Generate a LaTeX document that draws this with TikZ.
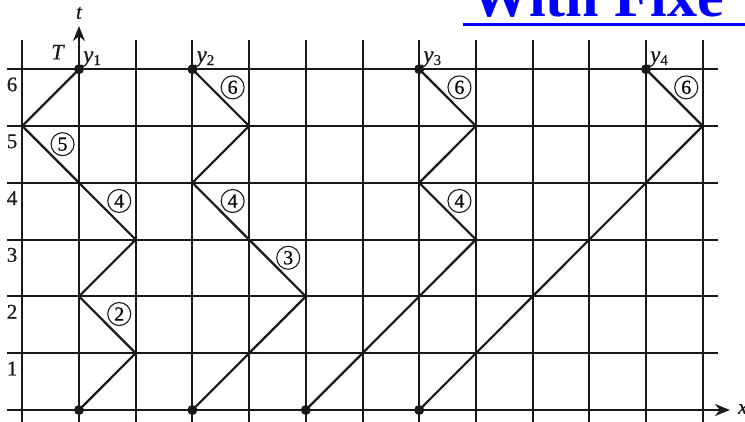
\documentclass[tikz,border=0pt]{standalone}
\usepackage{fontspec}
\setmainfont{Liberation Serif}
\newfontfamily\labfont{Liberation Serif}[FakeBold=0.6]
\usetikzlibrary{arrows.meta}
\definecolor{titleblue}{RGB}{0,0,255}
\definecolor{ink}{RGB}{25,25,25}
\newcommand{\ysub}[1]{\textit{y}\raisebox{-3pt}{\fontsize{15}{15}\selectfont #1}}
\begin{document}
\begin{tikzpicture}[x=56.7pt,y=56.8pt,
  gridline/.style={line width=2pt, ink},
  walk/.style={line width=2.2pt, line join=miter, ink},
  dotpt/.style={circle, fill=ink, inner sep=0, minimum size=10pt},
  numlab/.style={circle, draw=ink, line width=1.1pt, inner sep=0, minimum size=23pt, font=\labfont\fontsize{20}{20}\selectfont},
  axlab/.style={font=\labfont\fontsize{21}{21}\selectfont, inner sep=0, text=ink},
  ylab/.style={font=\labfont\fontsize{23}{23}\selectfont, anchor=south west, inner sep=0, text=ink},
  itlab/.style={font=\labfont\fontsize{21}{21}\selectfont\itshape, inner sep=0, text=ink},
  axarrow/.style={-{Stealth[length=15pt,width=12pt]}}
]
\clip (-79pt,-11pt) rectangle (666pt,410pt);
% grid
\foreach \k in {-1,1,2,...,11}{
  \coordinate (vb\k) at (\k,-0.4);
  \coordinate (vt\k) at (\k,6.514);
  \draw[gridline] (vb\k) -- (vt\k);
}
\foreach \t in {1,...,6}{
  \coordinate (hl\t) at (-1.27,\t);
  \coordinate (hr\t) at (11.27,\t);
  \draw[gridline] (hl\t) -- (hr\t);
  \node[axlab] (ax\t) at (-1.18,\t-0.27) {\t};
}
% axes
\coordinate (xs) at (-1.27,0);
\coordinate (xe) at (11.48,0);
\draw[gridline,axarrow] (xs) -- (xe);
\node[itlab, anchor=west] (xl) at ([xshift=8pt,yshift=1pt]xe) {x};
\coordinate (ts) at (0,-0.4);
\coordinate (te) at (0,6.76);
\draw[gridline,axarrow] (ts) -- (te);
\node[itlab] (tl) at (0,6.99) {t};
\node[itlab, font=\labfont\fontsize{22}{22}\selectfont\itshape] (Tl) at (-0.38,6.3) {T};
% walk 1
\coordinate (A0) at (0,0); \coordinate (A1) at (1,1); \coordinate (A2) at (0,2);
\coordinate (A3) at (1,3); \coordinate (A4) at (0,4); \coordinate (A5) at (-1,5);
\coordinate (A6) at (0,6);
\draw[walk] (A0) -- (A1) -- (A2) -- (A3) -- (A4) -- (A5) -- (A6);
% walk 2
\coordinate (B0) at (2,0); \coordinate (B1) at (4,2); \coordinate (B2) at (3,3);
\coordinate (B3) at (2,4); \coordinate (B4) at (3,5); \coordinate (B5) at (2,6);
\draw[walk] (B0) -- (B1) -- (B2) -- (B3) -- (B4) -- (B5);
% walk 3
\coordinate (C0) at (4,0); \coordinate (C1) at (7,3); \coordinate (C2) at (6,4);
\coordinate (C3) at (7,5); \coordinate (C4) at (6,6);
\draw[walk] (C0) -- (C1) -- (C2) -- (C3) -- (C4);
% walk 4
\coordinate (D0) at (6,0); \coordinate (D1) at (11,5); \coordinate (D2) at (10,6);
\draw[walk] (D0) -- (D1) -- (D2);
% dots
\foreach \p in {A0,A6,B0,B5,C0,C4,D0,D2}{
  \node[dotpt] (dot\p) at (\p) {};
}
% y labels
\node[ylab] (y1) at ([shift={(4pt,2pt)}]A6) {\ysub{1}};
\node[ylab] (y2) at ([shift={(4pt,2pt)}]B5) {\ysub{2}};
\node[ylab] (y3) at ([shift={(4pt,2pt)}]C4) {\ysub{3}};
\node[ylab] (y4) at ([shift={(4pt,2pt)}]D2) {\ysub{4}};
% circled numbers
\node[numlab] (n1) at (0.71,1.69) {2};
\node[numlab] (n2) at (0.71,3.68) {4};
\node[numlab] (n3) at (-0.29,4.68) {5};
\node[numlab] (n4) at (3.69,2.68) {3};
\node[numlab] (n5) at (2.71,3.68) {4};
\node[numlab] (n6) at (2.71,5.68) {6};
\node[numlab] (n7) at (6.71,3.68) {4};
\node[numlab] (n8) at (6.71,5.68) {6};
\node[numlab] (n9) at (10.71,5.68) {6};
% title fragment
\node[anchor=base west, inner sep=0, text=titleblue, font=\fontsize{60}{60}\selectfont\bfseries] (ttl) at (391pt,393pt) {With Fixe};
\coordinate (ul1) at (384pt,385pt);
\coordinate (ul2) at (700pt,385pt);
\draw[titleblue, line width=3pt] (ul1) -- (ul2);
\end{tikzpicture}
\end{document}
